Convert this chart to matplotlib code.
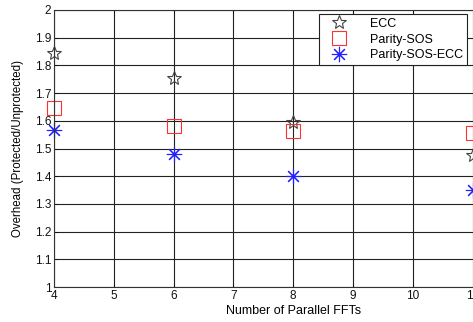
import numpy as np
import matplotlib
matplotlib.use("Agg")
import matplotlib.pyplot as plt

plt.rcParams['font.family'] = ['Liberation Sans', 'DejaVu Sans']

# data
n_ffts = [4, 6, 8, 11]
ecc = [1.845, 1.755, 1.595, 1.475]
parity_sos = [1.645, 1.583, 1.562, 1.555]
parity_sos_ecc = [1.565, 1.48, 1.40, 1.35]

xticks = list(range(4, 13))
yticks = [1.0, 1.1, 1.2, 1.3, 1.4, 1.5, 1.6, 1.7, 1.8, 1.9, 2.0]
ytick_labels = ['1', '1.1', '1.2', '1.3', '1.4', '1.5', '1.6', '1.7', '1.8', '1.9', '2']

W, H = 473, 322
fig = plt.figure(figsize=(W / 100, H / 100), dpi=100)
# axes runs past the right edge, like the cropped original
ax = fig.add_axes([54 / W, (H - 287) / H, 8 * 59.8 / W, 277 / H])

ax.plot(n_ffts, ecc, linestyle='none', marker='*', markersize=10,
        markerfacecolor='none', markeredgecolor='#444444', markeredgewidth=0.8,
        label='ECC', clip_on=False)
ax.plot(n_ffts, parity_sos, linestyle='none', marker='s', markersize=10.5,
        markerfacecolor='none', markeredgecolor='#ff3030', markeredgewidth=0.8,
        label='Parity-SOS', clip_on=False)
ax.plot(n_ffts, parity_sos_ecc, linestyle='none', marker=(8, 2, 0), markersize=11,
        markeredgecolor='#2020ff', markeredgewidth=0.8,
        label='Parity-SOS-ECC', clip_on=False)

ax.set_xlim(4, 12)
ax.set_ylim(1, 2)
ax.set_xticks(xticks)
ax.set_yticks(yticks)
ax.set_yticklabels(ytick_labels)
ax.grid(True, color='#222222', linewidth=0.8, linestyle='-')
ax.set_axisbelow(True)
ax.tick_params(direction='in', length=3, width=0.6, labelsize=8.5, pad=2,
               top=True, right=True, colors='#111111')
for s in ax.spines.values():
    s.set_color('#333333')
    s.set_linewidth(0.8)

ax.set_xlabel('Number of Parallel FFTs', fontsize=9, labelpad=2)
ax.set_ylabel('Overhead (Protected/Unprotected)', fontsize=8.3, labelpad=8)

leg = ax.legend(loc='upper right', bbox_to_anchor=(467 / W, 1 - 14 / H),
                bbox_transform=fig.transFigure, fontsize=9, frameon=True,
                fancybox=False, borderaxespad=0, handletextpad=1.2,
                handlelength=2.6, labelspacing=0.3, borderpad=0.3)
leg.get_frame().set_edgecolor('#222222')
leg.get_frame().set_linewidth(0.8)
leg.get_frame().set_alpha(1)

fig.savefig('out.png', dpi=100)
